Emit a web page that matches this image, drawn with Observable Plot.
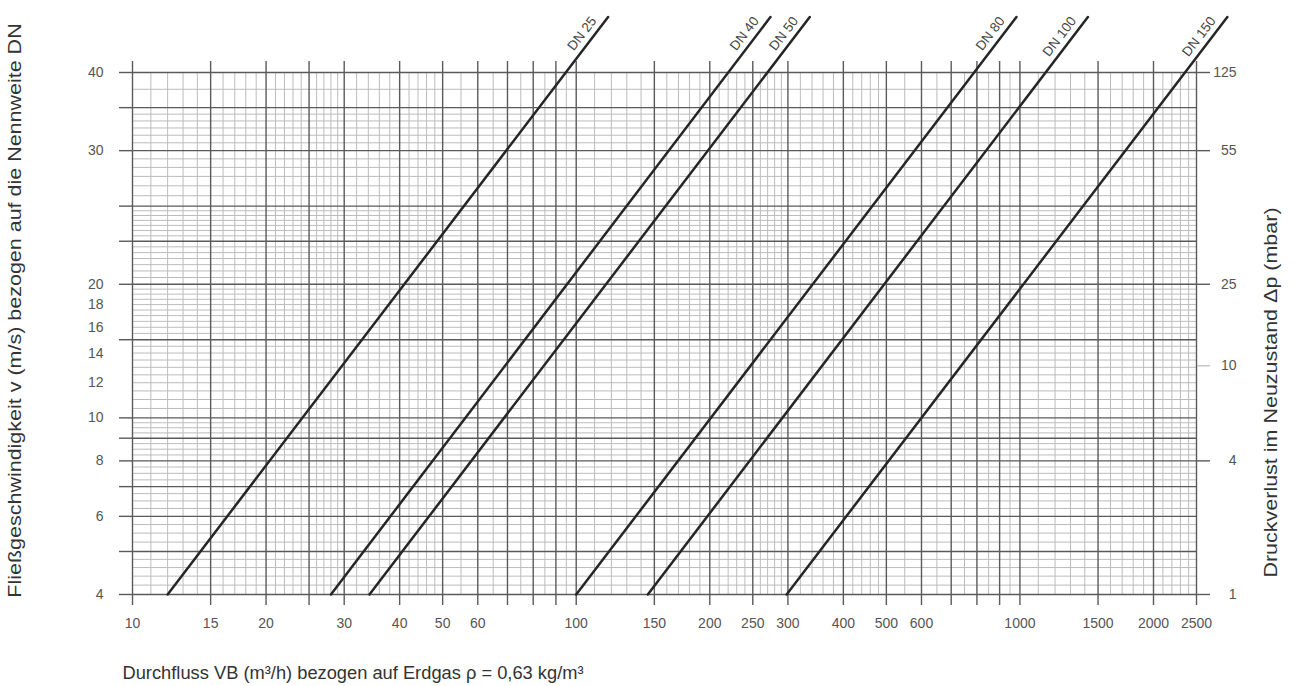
<!DOCTYPE html>
<html><head><meta charset="utf-8">
<script src="https://cdn.jsdelivr.net/npm/d3@7"></script>
<script src="https://cdn.jsdelivr.net/npm/@observablehq/plot@0.6"></script>
<style>
  html,body{margin:0;padding:0;background:#fff;}
  #chart svg{display:block;}
</style>
</head><body><div id="chart"></div>
<script>
// ---- data ----
// pipe lines (DN): flow where each line meets the bottom (v = 4) and flow at the line's upper tip
const dnNames = ["DN 25", "DN 40", "DN 50", "DN 80", "DN 100", "DN 150"];
const qAtBottom = [12.0, 28.0, 34.2, 100, 145, 298];
const qAtTip    = [118, 274, 336, 982, 1423, 2934];
const vBottom = 4;    // printed grid value at the bottom
const vTip = 80;      // printed grid value at the upper tip of every line

// x axis (flow, log)
const xMajor = [10,15,20,25,30,40,50,60,70,80,90,100,150,200,250,300,400,500,600,700,800,900,1000,1500,2000,2500];
const xDivs  = [5,5,5,5,5,5,2,2,2,2,2,5,5,5,5,5,5,2,2,2,2,2,5,5,5];
const xLabelTicks = [10,15,20,30,40,50,60,70,80,90,100,150,200,250,300,400,500,600,800,1000,1500,2000,2500];

// y axis (velocity, log grid); printed labels "30" and "40" sit on grid lines 40 and 60
const yMajor = [4,5,6,7,8,9,10,15,20,25,30,40,50,60];
const yDivs  = [5,4,4,4,4,4,10,10,7,7,6,6,2];
const yLabelPos  = [4,6,8,10,12,14,16,18,20,40,60];
const yLabelText = ["4","6","8","10","12","14","16","18","20","30","40"];

// right axis: pressure loss labels at velocity grid positions
const dpPos  = [4, 8, 20, 40, 60];
const dpText = ["1","4","25","55","125"];
const dpPosLight = [13.1];
const dpTextLight = ["10"];

const xTitle = "Durchfluss VB (m³/h) bezogen auf Erdgas ρ = 0,63 kg/m³";
const yTitle = "Fließgeschwindigkeit v (m/s) bezogen auf die Nennweite DN";
const rTitle = "Druckverlust im Neuzustand Δp (mbar)";

// ---- derived tables ----
function minors(major, divs) {
  const out = [];
  for (let i = 0; i < divs.length; i++) {
    const step = (major[i + 1] - major[i]) / divs[i];
    for (let j = 1; j < divs[i]; j++) out.push(+(major[i] + j * step).toFixed(4));
  }
  return out;
}
const xMinor = minors(xMajor, xDivs);
const yMinor = minors(yMajor, yDivs);
const lines = dnNames.flatMap((dn, i) => [
  {dn, q: qAtBottom[i], v: vBottom},
  {dn, q: qAtTip[i], v: vTip}
]);
const tips = dnNames.map((dn, i) => ({dn, q: qAtTip[i], v: vTip}));
const yLab = new Map(yLabelPos.map((p, i) => [p, yLabelText[i]]));
const dpLab = new Map(dpPos.map((p, i) => [p, dpText[i]]));
const dpLabL = new Map(dpPosLight.map((p, i) => [p, dpTextLight[i]]));
const xLab = new Map(xLabelTicks.map(d => [d, String(d)]));

const MAJOR = "#5a5a5a", MINOR = "#bcbcbc", TXT = "#555";

const chart = Plot.plot({
  width: 1294,
  height: 686,
  marginLeft: 132,
  marginRight: 98,
  marginTop: 72,
  marginBottom: 92,
  style: {fontFamily: "'Liberation Sans', Arial, sans-serif", fontSize: "14px", color: TXT, background: "#fff", overflow: "visible"},
  x: {type: "log", domain: [10, 2500]},
  y: {type: "log", domain: [4, 60]},
  marks: [
    Plot.ruleX(xMinor, {stroke: MINOR, strokeWidth: 1}),
    Plot.ruleY(yMinor, {stroke: MINOR, strokeWidth: 1}),
    Plot.ruleX(xMajor, {stroke: MAJOR, strokeWidth: 1.4}),
    Plot.ruleY(yMajor, {stroke: MAJOR, strokeWidth: 1.4}),
    // tick extensions outside the frame
    Plot.axisX(xMajor, {anchor: "bottom", tickSize: 11, tickFormat: () => "", stroke: MAJOR, strokeWidth: 1.4, label: null}),
    Plot.axisX(xMajor, {anchor: "top", tickSize: 12, tickFormat: () => "", stroke: MAJOR, strokeWidth: 1.4, label: null}),
    Plot.axisY(yMajor, {anchor: "left", tickSize: 13, tickFormat: () => "", stroke: MAJOR, strokeWidth: 1.4, label: null}),
    Plot.axisY(dpPos, {anchor: "right", tickSize: 13, tickFormat: () => "", stroke: MAJOR, strokeWidth: 1.4, label: null}),
    Plot.axisY(dpPosLight, {anchor: "right", tickSize: 13, tickFormat: () => "", stroke: "#aaa", strokeWidth: 1, label: null}),
    // tick labels
    Plot.axisX(xLabelTicks, {anchor: "bottom", tickSize: 0, tickPadding: 24, tickFormat: d => xLab.get(d), fill: TXT, fontSize: 14, label: null}),
    Plot.axisY(yLabelPos, {anchor: "left", tickSize: 0, tickPadding: 29, tickFormat: d => yLab.get(d), fill: TXT, fontSize: 14, label: null}),
    Plot.axisY(dpPos, {anchor: "right", tickSize: 0, tickPadding: 40, textAnchor: "end", tickFormat: d => dpLab.get(d), fill: TXT, fontSize: 14, label: null}),
    Plot.axisY(dpPosLight, {anchor: "right", tickSize: 0, tickPadding: 40, textAnchor: "end", tickFormat: d => dpLabL.get(d), fill: TXT, fontSize: 14, label: null}),
    // DN lines
    Plot.line(lines, {x: "q", y: "v", z: "dn", stroke: "#262626", strokeWidth: 2.5}),
    Plot.text(tips, {x: "q", y: "v", text: "dn", rotate: -52.6, textAnchor: "end", lineAnchor: "bottom", dx: -11, dy: 4, fill: "#444", fontSize: 13.5}),
    // titles
    Plot.text([xTitle], {frameAnchor: "bottom-left", textAnchor: "start", dx: -10, dy: 84, fill: "#333", fontSize: 18.3}),
    Plot.text([yTitle], {frameAnchor: "left", textAnchor: "middle", rotate: -90, dx: -117, dy: -23, fill: "#333", fontSize: 18.3}),
    Plot.text([rTitle], {frameAnchor: "right", textAnchor: "middle", rotate: -90, dx: 75, dy: 59, fill: "#333", fontSize: 18.3})
  ]
});
document.getElementById("chart").append(chart);

// the reference's vertical titles are drawn slightly stretched along their direction
d3.select(chart).selectAll("text").each(function () {
  const t = this.textContent;
  if (t === yTitle || t === rTitle) {
    const L = this.getComputedTextLength();
    this.setAttribute("textLength", (L * 1.175).toFixed(1));
    this.setAttribute("lengthAdjust", "spacingAndGlyphs");
  }
});
</script>
</body></html>
